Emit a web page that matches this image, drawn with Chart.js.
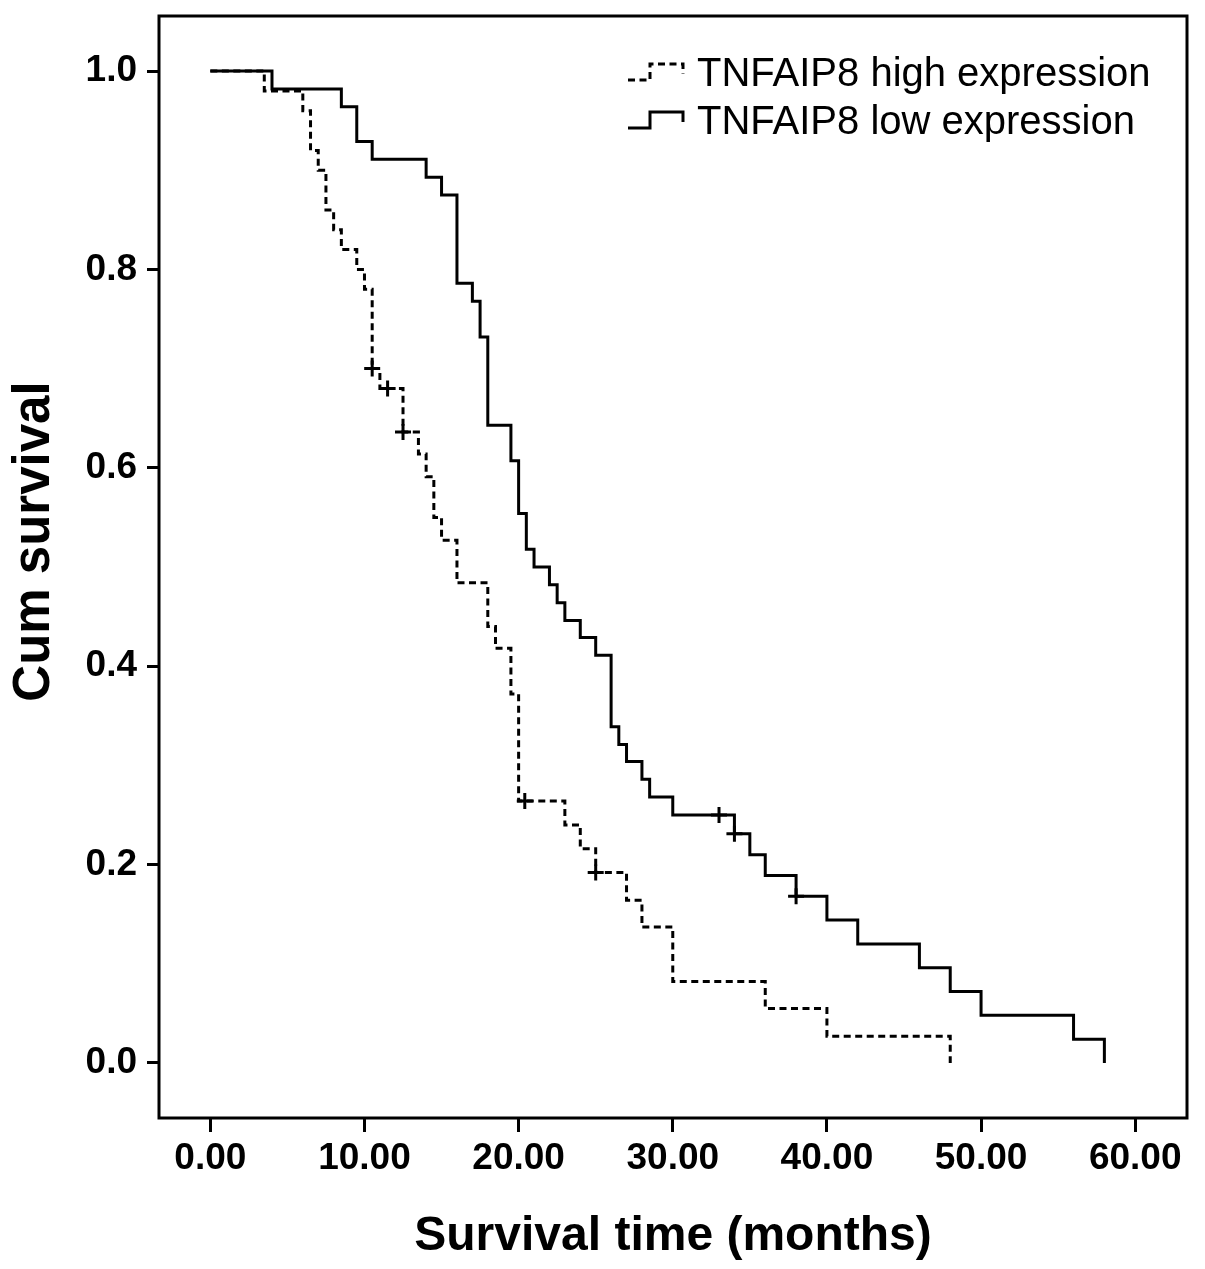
<!DOCTYPE html>
<html>
<head>
<meta charset="utf-8">
<title>Cum survival</title>
<script src="https://cdn.jsdelivr.net/npm/chart.js@4.4.1/dist/chart.umd.min.js"></script>
<style>
  html, body { margin: 0; padding: 0; background: #fff; }
  #wrap { width: 1205px; height: 1269px; }
</style>
</head>
<body>
<div id="wrap"><canvas id="kmChart" width="1205" height="1269"></canvas></div>
<script>
"use strict";

const seriesNames = ["TNFAIP8 high expression", "TNFAIP8 low expression"];

// high expression (dashed) - time of each step and survival after it
const highTime = [0, 3.5, 6, 6.5, 7, 7.5, 8, 8.5, 9.5, 10, 10.5, 11, 12.5, 13.5, 14, 14.5, 15, 16, 18, 18.5, 19.5, 20, 23, 24, 25, 27, 28, 30, 36, 40, 48];
const highSurv = [1, 0.98, 0.96, 0.92, 0.90, 0.86, 0.84, 0.82, 0.80, 0.78, 0.70, 0.68, 0.636, 0.614, 0.591, 0.55, 0.527, 0.484, 0.44, 0.418, 0.372, 0.264, 0.24, 0.216, 0.192, 0.164, 0.137, 0.082, 0.055, 0.027, 0];
const highCensTime = [10.5, 11.5, 12.5, 20.4, 25];
const highCensSurv = [0.70, 0.68, 0.636, 0.264, 0.192];

// low expression (solid)
const lowTime = [0, 4, 8.5, 9.5, 10.5, 14, 15, 16, 17, 17.5, 18, 19.5, 20, 20.5, 21, 22, 22.5, 23, 24, 25, 26, 26.5, 27, 28, 28.5, 30, 34, 35, 36, 38, 40, 42, 46, 48, 50, 56, 58];
const lowSurv = [1, 0.982, 0.964, 0.929, 0.911, 0.893, 0.875, 0.786, 0.768, 0.732, 0.643, 0.607, 0.554, 0.518, 0.5, 0.482, 0.464, 0.446, 0.429, 0.411, 0.339, 0.321, 0.304, 0.286, 0.268, 0.25, 0.231, 0.21, 0.189, 0.168, 0.144, 0.12, 0.096, 0.072, 0.048, 0.024, 0];
const lowCensTime = [33, 34, 38];
const lowCensSurv = [0.25, 0.231, 0.168];

const xTicks = [0, 10, 20, 30, 40, 50, 60];
const yTicks = [0, 0.2, 0.4, 0.6, 0.8, 1.0];

const FONT = "'Liberation Sans', Arial, sans-serif";

function toPoints(xs, ys) {
  let pts = [];
  for (let i = 0; i < xs.length; i++) {
    pts.push({ x: xs[i], y: ys[i] });
  }
  return pts;
}

// box around the plot area
const framePlugin = {
  id: "frame",
  afterDraw(chart) {
    const a = chart.chartArea;
    const ctx = chart.ctx;
    ctx.save();
    ctx.strokeStyle = "#000";
    ctx.lineWidth = 3;
    ctx.strokeRect(a.left, a.top, a.right - a.left, a.bottom - a.top);
    ctx.restore();
  }
};

// SPSS style legend with little step glyphs, inside the plot
const kmLegend = {
  id: "kmLegend",
  afterDraw(chart) {
    const a = chart.chartArea;
    const ctx = chart.ctx;
    const gx = a.right - 559;
    const rows = [a.top + 70, a.top + 118];
    ctx.save();
    for (let i = 0; i < seriesNames.length; i++) {
      const ds = chart.data.datasets[i];
      const base = rows[i];
      const mid = base - 14;
      ctx.strokeStyle = "#000";
      ctx.lineWidth = 3;
      ctx.setLineDash(ds.borderDash || []);
      ctx.beginPath();
      ctx.moveTo(gx, mid + 8);
      ctx.lineTo(gx + 22, mid + 8);
      ctx.lineTo(gx + 22, mid - 8);
      ctx.lineTo(gx + 55, mid - 8);
      ctx.lineTo(gx + 55, mid + 2);
      ctx.stroke();
      ctx.setLineDash([]);
      ctx.fillStyle = "#000";
      ctx.font = "40px " + FONT;
      ctx.textBaseline = "alphabetic";
      ctx.textAlign = "left";
      ctx.fillText(ds.label, gx + 69, base);
    }
    ctx.restore();
  }
};

const data = {
  datasets: [
    {
      label: seriesNames[0],
      data: toPoints(highTime, highSurv),
      stepped: "before",
      borderColor: "#000",
      borderWidth: 3,
      borderDash: [7, 4.5],
      pointRadius: 0,
      fill: false
    },
    {
      label: seriesNames[1],
      data: toPoints(lowTime, lowSurv),
      stepped: "before",
      borderColor: "#000",
      borderWidth: 3,
      pointRadius: 0,
      fill: false
    },
    {
      label: "high censored",
      type: "scatter",
      data: toPoints(highCensTime, highCensSurv),
      pointStyle: "cross",
      pointRadius: 8,
      borderColor: "#000",
      borderWidth: 3,
      showLine: false
    },
    {
      label: "low censored",
      type: "scatter",
      data: toPoints(lowCensTime, lowCensSurv),
      pointStyle: "cross",
      pointRadius: 8,
      borderColor: "#000",
      borderWidth: 3,
      showLine: false
    }
  ]
};

const config = {
  type: "line",
  data: data,
  options: {
    responsive: false,
    animation: false,
    devicePixelRatio: 1,
    layout: { padding: { left: 0, top: 16, right: 18, bottom: 0 } },
    plugins: {
      legend: { display: false },
      tooltip: { enabled: false }
    },
    scales: {
      x: {
        type: "linear",
        min: -3.33,
        max: 63.36,
        afterBuildTicks: (s) => { s.ticks = xTicks.map((v) => ({ value: v })); },
        afterFit: (s) => {
          s.height = 151;
          s.paddingLeft = 0;
          s.paddingRight = 0;
        },
        grid: { display: true, drawOnChartArea: false, drawTicks: true, tickLength: 14, tickWidth: 3, tickColor: "#000" },
        border: { display: false },
        ticks: {
          color: "#000",
          autoSkip: false,
          maxRotation: 0,
          padding: 5,
          font: { family: FONT, size: 37, weight: "bold" },
          callback: (v) => Number(v).toFixed(2)
        },
        title: {
          display: true,
          text: "Survival time (months)",
          color: "#000",
          font: { family: FONT, size: 48, weight: "bold" },
          padding: { top: 0, bottom: 3 }
        }
      },
      y: {
        type: "linear",
        min: -0.0555,
        max: 1.0555,
        afterBuildTicks: (s) => { s.ticks = yTicks.map((v) => ({ value: v })); },
        afterFit: (s) => {
          s.width = 159;
          s.paddingTop = 0;
          s.paddingBottom = 0;
        },
        grid: { display: true, drawOnChartArea: false, drawTicks: true, tickLength: 12, tickWidth: 3, tickColor: "#000" },
        border: { display: false },
        ticks: {
          color: "#000",
          padding: 10,
          font: { family: FONT, size: 37, weight: "bold" },
          callback: (v) => Number(v).toFixed(1)
        },
        title: {
          display: true,
          text: "\u2003Cum survival",
          color: "#000",
          font: { family: FONT, size: 51, weight: "bold" },
          padding: { top: 4, bottom: 0 }
        }
      }
    }
  },
  plugins: [framePlugin, kmLegend]
};

const kmChart = new Chart(document.getElementById("kmChart"), config);
</script>
</body>
</html>
